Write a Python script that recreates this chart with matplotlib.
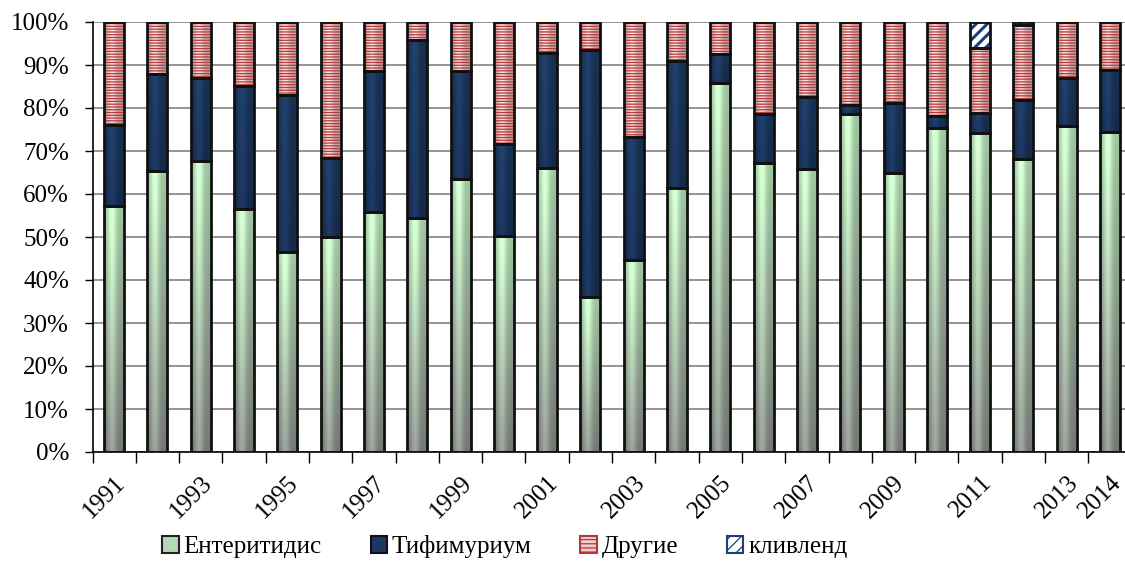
import numpy as np
import matplotlib
matplotlib.use('Agg')
import matplotlib.pyplot as plt
from matplotlib.patches import Patch
from matplotlib.ticker import FixedLocator, PercentFormatter

plt.rcParams['font.family'] = ['Liberation Serif', 'DejaVu Serif']
plt.rcParams['hatch.linewidth'] = 0.9

# Data (percent of isolates per year)
years = list(range(1991, 2015))
enteritidis = [57.2, 65.3, 67.7, 56.5, 46.5, 50.0, 55.7, 54.4, 63.6, 50.2, 66.0, 36.1,
               44.6, 61.3, 85.9, 67.2, 65.7, 78.5, 64.8, 75.3, 74.1, 68.1, 75.9, 74.5]
typhimurium = [18.8, 22.6, 19.2, 28.6, 36.5, 18.3, 32.9, 41.4, 25.0, 21.4, 26.7, 57.5,
               28.7, 29.6, 6.6, 11.3, 16.8, 2.2, 16.4, 2.8, 4.7, 13.8, 11.1, 14.3]
other = [24.0, 12.1, 13.1, 14.9, 17.0, 31.7, 11.4, 4.2, 11.4, 28.4, 7.3, 6.4,
         26.7, 9.1, 7.5, 21.5, 17.5, 19.3, 18.8, 21.9, 15.1, 17.5, 13.0, 11.2]
cleveland = [0, 0, 0, 0, 0, 0, 0, 0, 0, 0, 0, 0,
             0, 0, 0, 0, 0, 0, 0, 0, 6.1, 0.6, 0, 0]
labels = ['Ентеритидис', 'Тифимуриум', 'Другие', 'кливленд']
tick_years = [1991, 1993, 1995, 1997, 1999, 2001, 2003, 2005, 2007, 2009, 2011, 2013, 2014]

fig = plt.figure(figsize=(11.25, 5.61), dpi=100)
ax = fig.add_axes([92.5 / 1125, 109 / 561, 24 * 43.3 / 1125, 430 / 561])

x = np.arange(len(years))
w = 0.46
ent = np.array(enteritidis)
typ = np.array(typhimurium)
oth = np.array(other)
clv = np.array(cleveland)


def shade(patches, top_rgb, bot_rgb, z):
    # fill every bar with a vertical colour ramp and a light band (bevel look)
    u = np.linspace(0, 1, 40)
    band = 0.8 + 0.3 * np.exp(-((u - 0.4) / 0.22) ** 2)
    v = np.linspace(0, 1, 60)[:, None, None]
    top = np.array(top_rgb) / 255.0
    bot = np.array(bot_rgb) / 255.0
    col = top * (1 - v) + bot * v
    img = np.clip(col * band[None, :, None], 0, 1)
    for p in patches:
        if p.get_height() <= 0:
            continue
        x0, y0 = p.get_x(), p.get_y()
        im = ax.imshow(img, extent=[x0, x0 + p.get_width(), y0, y0 + p.get_height()],
                       aspect='auto', zorder=z, interpolation='bilinear')
        im.set_clip_path(p)


b1 = ax.bar(x, ent, w, color='none', edgecolor='none', zorder=2)
shade(b1, (200, 245, 200), (145, 150, 145), 2)
b2 = ax.bar(x, typ, w, bottom=ent, color='none', edgecolor='none', zorder=2)
shade(b2, (30, 60, 100), (26, 52, 92), 2)
b3 = ax.bar(x, oth, w, bottom=ent + typ, color='none', edgecolor='none', zorder=2)
shade(b3, (242, 212, 212), (236, 200, 200), 2)
ax.bar(x, oth, w, bottom=ent + typ, color='none', edgecolor='#b23a3a',
       linewidth=0, hatch='------', zorder=3)
cb = ax.bar(x, clv, w, bottom=ent + typ + oth, color='white', edgecolor='#1f3f78',
            linewidth=0, hatch='///', zorder=3)
for p in cb:
    if hasattr(p, 'set_hatch_linewidth'):
        p.set_hatch_linewidth(2.2)

# black outlines of all segments
for vals, bot in [(ent, 0), (typ, ent), (oth, ent + typ), (clv, ent + typ + oth)]:
    keep = vals > 0
    ax.bar(x[keep], vals[keep], w, bottom=(bot if np.isscalar(bot) else bot[keep]),
           fill=False, edgecolor='#111111', linewidth=2.0, zorder=4)

ax.set_xlim(-0.5, len(years) - 0.5)
ax.set_ylim(0, 100)
ax.yaxis.set_major_locator(FixedLocator(np.arange(0, 101, 10)))
ax.yaxis.set_major_formatter(PercentFormatter(decimals=0))
ax.grid(axis='y', color='#8c8c8c', linewidth=1.3, zorder=0)
ax.set_axisbelow(True)

ax.set_xticks([years.index(t) for t in tick_years])
ax.set_xticklabels([str(t) for t in tick_years], rotation=45, ha='right', va='top',
                   rotation_mode='anchor')
ax.set_xticks(np.arange(-0.5, len(years)), minor=True)
ax.tick_params(axis='x', which='major', length=0, pad=14, labelsize=18)
ax.tick_params(axis='x', which='minor', length=8, width=1, color='black')
ax.tick_params(axis='y', length=6, width=1, labelsize=18, pad=11)

for s in ['top', 'right']:
    ax.spines[s].set_visible(False)
ax.spines['left'].set_linewidth(1.2)
ax.spines['bottom'].set_linewidth(1.2)

handles = [Patch(facecolor='#b4d8b4', edgecolor='#222222', linewidth=1.5),
           Patch(facecolor='#1c3860', edgecolor='#111111', linewidth=1.5),
           Patch(facecolor='#f0cccc', edgecolor='#b23a3a', hatch='----', linewidth=1.5),
           Patch(facecolor='white', edgecolor='#1f3f78', hatch='///', linewidth=1.5)]
fig.legend(handles, labels, loc='center', bbox_to_anchor=(505 / 1125, 1 - 547 / 561),
           ncol=4, frameon=False, fontsize=18, handlelength=0.65, handleheight=0.65,
           handletextpad=0.2, columnspacing=1.95, borderpad=0)

fig.savefig('out.png', dpi=100)
